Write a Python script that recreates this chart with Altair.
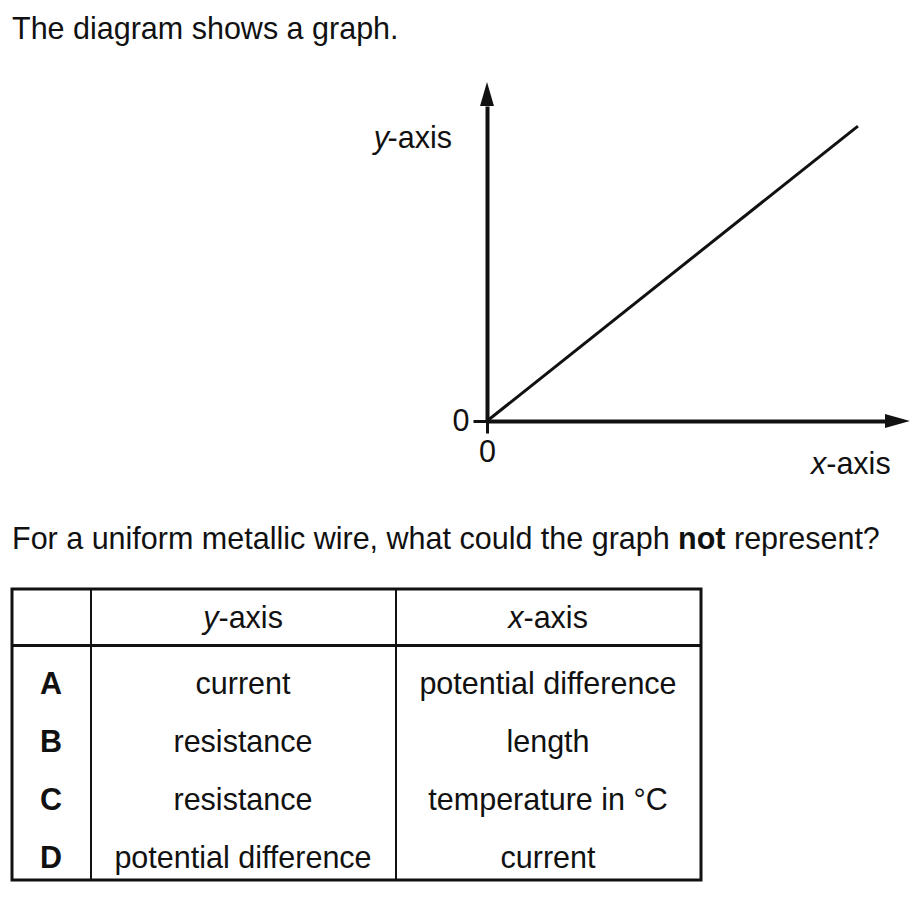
import altair as alt
import pandas as pd

FONT = "Liberation Sans"
FS = 30.5
INK = "#111111"

# ---- graph values ----
line_x = [0, 10]
line_y = [0, 10]
x_axis_end = 10.73
y_axis_end = 10.68
tick_values = [0]

# ---- table values ----
letters = ["A", "B", "C", "D"]
y_quantities = ["current", "resistance", "resistance", "potential difference"]
x_quantities = ["potential difference", "length", "temperature in °C", "current"]

W, H = 905, 881

xs = alt.Scale(domain=[0, x_axis_end], range=[479, 877], nice=False, zero=False)
ys = alt.Scale(domain=[0, y_axis_end], range=[413, 98], nice=False, zero=False)

axis_common = dict(
    values=tick_values, domainWidth=4, domainColor=INK, tickColor=INK,
    tickWidth=3, labelFont=FONT, labelFontSize=FS, labelColor=INK,
    title=None, grid=False, labelFlush=False,
)

line_df = pd.DataFrame({"gx": line_x, "gy": line_y})
line = alt.Chart(line_df).mark_line(color=INK, strokeWidth=3, strokeCap="butt").encode(
    x=alt.X("gx:Q", scale=xs, axis=alt.Axis(orient="bottom", offset=413 - H, tickSize=12,
                                             labelPadding=4, **axis_common)),
    y=alt.Y("gy:Q", scale=ys, axis=alt.Axis(orient="left", offset=-479, tickSize=14,
                                             labelPadding=4, **axis_common)),
)

arrow_right = alt.Chart(pd.DataFrame({"gx": [x_axis_end], "gy": [0]})).mark_point(
    shape="M0,-0.58 L2.08,0 L0,0.58 Z", size=576, filled=True, color=INK, opacity=1, strokeWidth=0
).encode(x=alt.X("gx:Q", scale=xs, axis=None), y=alt.Y("gy:Q", scale=ys, axis=None))

arrow_up = alt.Chart(pd.DataFrame({"gx": [0], "gy": [y_axis_end]})).mark_point(
    shape="M-0.58,0 L0,-2 L0.58,0 Z", size=576, filled=True, color=INK, opacity=1, strokeWidth=0
).encode(x=alt.X("gx:Q", scale=xs, axis=None), y=alt.Y("gy:Q", scale=ys, axis=None))


def label(text, x, y, weight="normal", style="normal", align="left"):
    return alt.Chart(pd.DataFrame({"t": [text]})).mark_text(
        font=FONT, fontSize=FS, fontWeight=weight, fontStyle=style,
        align=align, baseline="alphabetic", color=INK
    ).encode(x=alt.value(x), y=alt.value(y), text="t:N")


texts = [
    label("The diagram shows a graph.", 4, 31),
    label("y", 381, 140, style="italic", align="right"),
    label("-axis", 444, 140, align="right"),
    label("x", 803, 466, style="italic"),
    label("-axis", 818.25, 466),
    label("For a uniform metallic wire, what could the graph", 4, 541),
    label("not", 670.1, 541, weight="bold"),
    label("represent?", 726, 541),
    label("y", 195.2, 620, style="italic"),
    label("-axis", 210.5, 620),
    label("x", 500.2, 620, style="italic"),
    label("-axis", 515.5, 620),
]

# ---- table frame ----
one = pd.DataFrame({"a": [0]})
frame = alt.Chart(one).mark_rect(fillOpacity=0, stroke=INK, strokeWidth=3).encode(
    x=alt.value(4), x2=alt.value(693), y=alt.value(581), y2=alt.value(872)
)
col1 = alt.Chart(one).mark_rule(color=INK, strokeWidth=2).encode(
    x=alt.value(83), y=alt.value(581), y2=alt.value(872))
col2 = alt.Chart(one).mark_rule(color=INK, strokeWidth=2).encode(
    x=alt.value(388), y=alt.value(581), y2=alt.value(872))
head = alt.Chart(one).mark_rule(color=INK, strokeWidth=3).encode(
    x=alt.value(4), x2=alt.value(693), y=alt.value(637.5))

table_df = pd.DataFrame({"letter": letters, "yq": y_quantities, "xq": x_quantities})
rows = alt.Scale(type="point", domain=letters, range=[686, 860], padding=0)


def col_text(field, x, weight="normal"):
    return alt.Chart(table_df).mark_text(
        font=FONT, fontSize=FS, fontWeight=weight, align="center",
        baseline="alphabetic", color=INK
    ).encode(x=alt.value(x), y=alt.Y("letter:N", scale=rows, axis=None), text=f"{field}:N")


table_texts = [col_text("letter", 43, "bold"), col_text("yq", 235), col_text("xq", 540)]

chart = alt.layer(
    line, arrow_right, arrow_up, frame, col1, col2, head, *texts, *table_texts
).resolve_scale(x="independent", y="independent").properties(
    width=W, height=H, autosize=alt.AutoSizeParams(type="none"), padding=0
).configure_view(stroke=None)

chart.save("out.html", embed_options={"renderer": "svg", "actions": False})
